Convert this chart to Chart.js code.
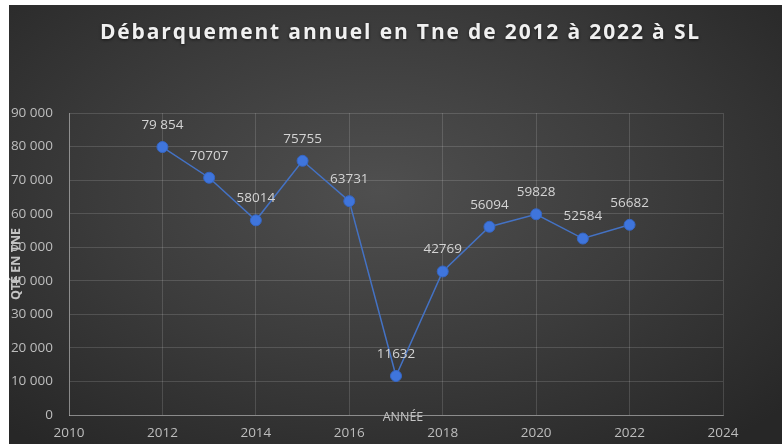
<!DOCTYPE html>
<html>
<head>
<meta charset="utf-8">
<script src="https://cdn.jsdelivr.net/npm/chart.js@4"></script>
<style>
  html, body { margin: 0; padding: 0; background: #ffffff; }
  #wrap {
    position: absolute; left: 9px; top: 5px; width: 773px; height: 439px;
    background: radial-gradient(ellipse 70% 75% at 48% 42%, #4f4f4f 0%, #3c3c3c 50%, #272727 100%);
  }
</style>
</head>
<body>
<div id="wrap"><canvas id="myChart"></canvas></div>
<script>
// données
const years = [2012, 2013, 2014, 2015, 2016, 2017, 2018, 2019, 2020, 2021, 2022];
const quantities = [79854, 70707, 58014, 75755, 63731, 11632, 42769, 56094, 59828, 52584, 56682];
const pointLabels = ['79 854', '70707', '58014', '75755', '63731', '11632', '42769', '56094', '59828', '52584', '56682'];
const titleText = 'Débarquement annuel en Tne de 2012 à 2022 à SL';
const xTitle = 'ANNÉE';
const yTitle = 'QTÉ EN TNE';

const tickFont = { family: 'Open Sans', size: 13.5 };
const tickColor = '#bdbdbd';

// étiquettes au-dessus des points + titres
const labelsPlugin = {
    id: 'labelsPlugin',
    afterDatasetsDraw(chart) {
        const c = chart.ctx;
        const meta = chart.getDatasetMeta(0);
        c.save();
        c.font = '13.5px "Open Sans"';
        c.fillStyle = '#d4d4d4';
        c.textAlign = 'center';
        c.textBaseline = 'middle';
        meta.data.forEach((pt, i) => {
            c.fillText(pointLabels[i], pt.x, pt.y - 22);
        });
        c.restore();
    },
    afterDraw(chart) {
        const c = chart.ctx;
        const area = chart.chartArea;
        c.save();
        // titre principal
        c.font = 'bold 21px "Open Sans"';
        c.letterSpacing = '1.85px';
        c.fillStyle = '#f0f0f0';
        c.textAlign = 'center';
        c.textBaseline = 'middle';
        c.shadowColor = 'rgba(0,0,0,0.6)';
        c.shadowBlur = 3;
        c.shadowOffsetY = 1;
        c.fillText(titleText, chart.width / 2 + 5, 28);
        c.shadowColor = 'transparent';
        c.letterSpacing = '0px';
        // titre axe x
        c.font = '12.5px "Open Sans"';
        c.fillStyle = '#c4c4c4';
        c.fillText(xTitle, (area.left + area.right) / 2 + 7, area.bottom + 2);
        // titre axe y
        c.font = 'bold 12.5px "Open Sans"';
        c.translate(7, area.top + 151);
        c.rotate(-Math.PI / 2);
        c.fillText(yTitle, 0, 0);
        c.restore();
    }
};

const ctx = document.getElementById('myChart').getContext('2d');
const myChart = new Chart(ctx, {
    type: 'line',
    data: {
        labels: years,
        datasets: [{
            label: 'Débarquement',
            data: years.map((y, i) => ({ x: y, y: quantities[i] })),
            borderColor: '#4472c4',
            borderWidth: 1.5,
            backgroundColor: '#3f75dc',
            pointBackgroundColor: '#3f75dc',
            pointBorderColor: '#3566c4',
            pointBorderWidth: 1,
            pointRadius: 5.5,
            tension: 0
        }]
    },
    options: {
        responsive: true,
        maintainAspectRatio: false,
        animation: false,
        layout: { padding: { top: 108, left: 0, right: 59, bottom: 0 } },
        plugins: {
            legend: { display: false },
            tooltip: { enabled: false }
        },
        scales: {
            x: {
                type: 'linear',
                min: 2010,
                max: 2024,
                afterFit: scale => { scale.height = 29; },
                ticks: {
                    stepSize: 2,
                    color: tickColor,
                    font: tickFont,
                    padding: 10,
                    callback: v => String(v)
                },
                grid: { color: 'rgba(255,255,255,0.14)', drawTicks: false },
                border: { color: 'rgba(255,255,255,0.35)', width: 1 }
            },
            y: {
                min: 0,
                max: 90000,
                afterFit: scale => { scale.width = 60; },
                ticks: {
                    stepSize: 10000,
                    color: tickColor,
                    font: tickFont,
                    padding: 16,
                    callback: v => v === 0 ? '0' : String(v).replace(/\B(?=(\d{3})+(?!\d))/g, ' ')
                },
                grid: { color: 'rgba(255,255,255,0.14)', drawTicks: false },
                border: { color: 'rgba(255,255,255,0.35)', width: 1 }
            }
        }
    },
    plugins: [labelsPlugin]
});
</script>
</body>
</html>
